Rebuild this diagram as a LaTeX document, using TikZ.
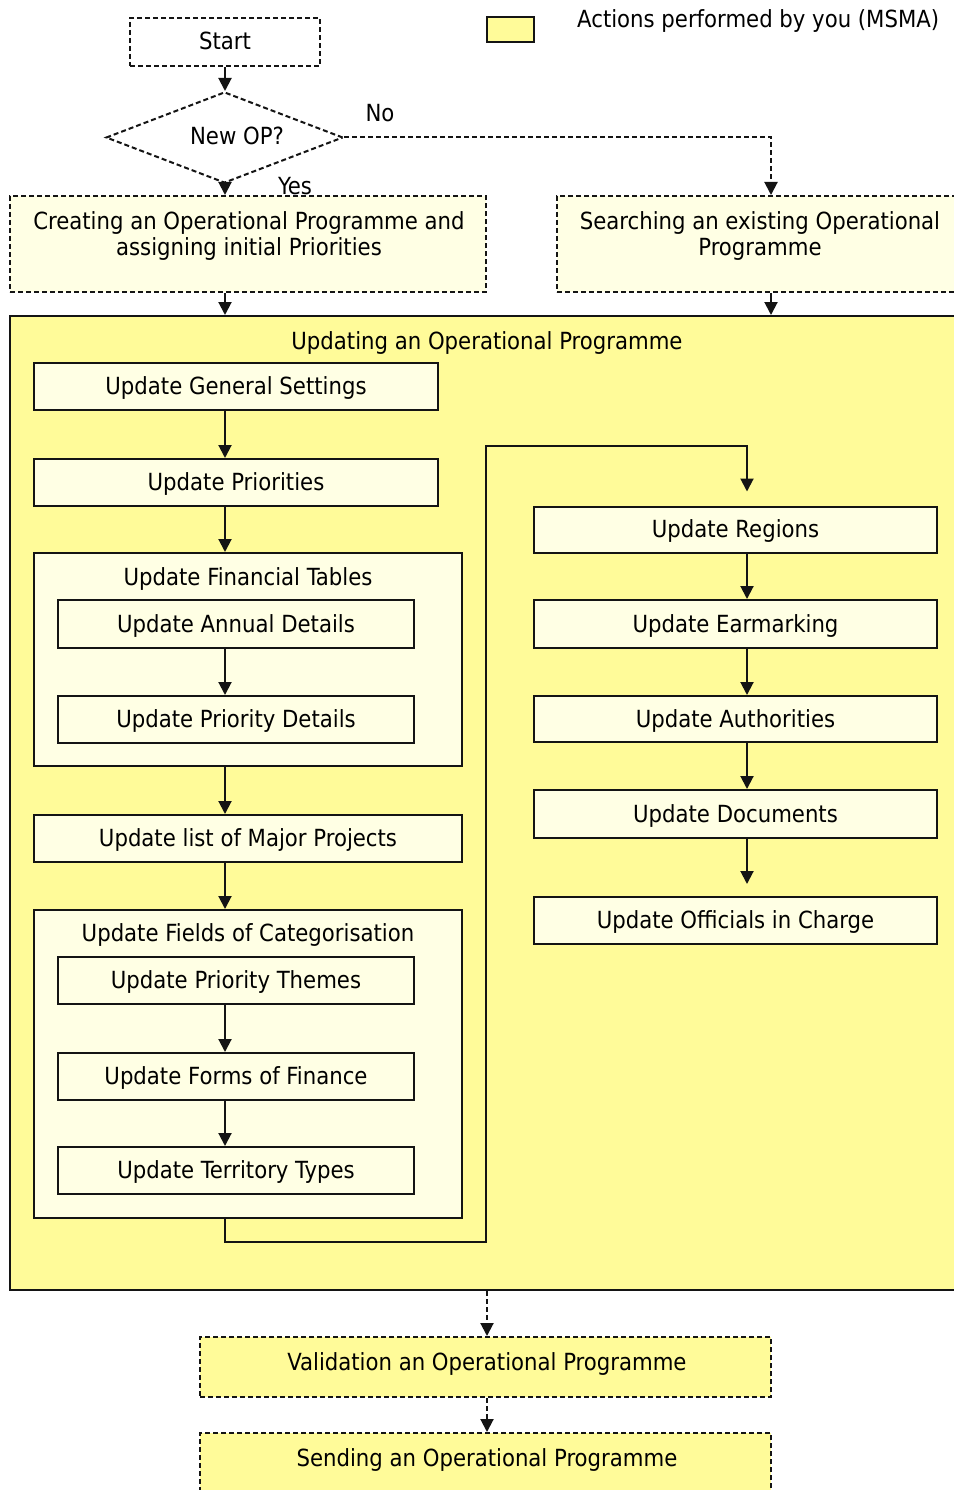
\documentclass[tikz,border=0pt]{standalone}
\usepackage{fontspec}
\setmainfont{DejaVu Sans Condensed}
\usetikzlibrary{arrows.meta,shapes.geometric}
\definecolor{actfill}{HTML}{FFFB99}
\definecolor{palefill}{HTML}{FFFFE4}
\definecolor{edge}{HTML}{141414}
\tikzset{
  every node/.style={font=\fontsize{23.6}{26}\selectfont, text=black, inner sep=0pt,
                     text height=19pt, text depth=3pt},
  twolines/.style={align=center, text height={}, text depth={}},
  solidbox/.style={draw=edge, line width=2pt, fill=palefill},
  dashbox/.style={draw=edge, line width=2pt, dash pattern=on 5pt off 3pt},
  arr/.style={draw=edge, line width=2pt, -{Triangle[width=13pt,length=13pt]}},
  dasharr/.style={arr, dash pattern=on 5pt off 3pt},
}
\begin{document}
\begin{tikzpicture}[x=1pt,y=-1pt]
\useasboundingbox (0,0) rectangle (953,1490);
\fill[white] (0,0) rectangle (953,1490);

% legend
\node[draw=edge, line width=1.6pt, fill=actfill, minimum width=47pt, minimum height=25pt] (legbox) at (510.5,29.5) {};
\node[anchor=west] (legtext) at (577,20) {Actions performed by you (MSMA)};

% start and decision
\node[dashbox, fill=white, minimum width=190pt, minimum height=48pt] (start) at (225,42) {Start};
\node[dashbox, diamond, minimum width=237pt, minimum height=91pt] (dec) at (224.5,137.5) {};
\node (dectext) at (237,137) {New OP?};
\node (no) at (380,114) {No};
\node (yes) at (295,186) {Yes};
\coordinate (ax) at (225,0);
\coordinate (bx) at (771,0);

% creating / searching
\node[dashbox, fill=palefill, minimum width=476pt, minimum height=96pt] (create) at (248,244) {};
\node[twolines] (createtext) at (249,236) {Creating an Operational Programme and\\assigning initial Priorities};
\node[dashbox, fill=palefill, minimum width=404pt, minimum height=96pt] (search) at (759,244) {};
\node[twolines] (searchtext) at (760,236) {Searching an existing Operational\\Programme};

% big update area
\node[draw=edge, line width=2pt, fill=actfill, minimum width=952pt, minimum height=974pt] (upd) at (486,803) {};
\node (updtitle) at (487,341) {Updating an Operational Programme};

% left column
\node[solidbox, minimum width=404pt, minimum height=47pt] (gen) at (236,386.5) {Update General Settings};
\node[solidbox, minimum width=404pt, minimum height=47pt] (pri) at (236,482.5) {Update Priorities};
\node[solidbox, minimum width=428pt, minimum height=213pt] (fin) at (248,659.5) {};
\node (fintitle) at (248,577) {Update Financial Tables};
\node[solidbox, minimum width=356pt, minimum height=48pt] (ann) at (236,624) {Update Annual Details};
\node[solidbox, minimum width=356pt, minimum height=47pt] (prd) at (236,719.5) {Update Priority Details};
\node[solidbox, minimum width=428pt, minimum height=47pt] (maj) at (248,838.5) {Update list of Major Projects};
\node[solidbox, minimum width=428pt, minimum height=308pt] (cat) at (248,1064) {};
\node (cattitle) at (248,933) {Update Fields of Categorisation};
\node[solidbox, minimum width=356pt, minimum height=47pt] (thm) at (236,980.5) {Update Priority Themes};
\node[solidbox, minimum width=356pt, minimum height=47pt] (frm) at (236,1076.5) {Update Forms of Finance};
\node[solidbox, minimum width=356pt, minimum height=47pt] (ter) at (236,1170.5) {Update Territory Types};

% right column
\node[solidbox, minimum width=403pt, minimum height=46pt] (reg) at (735.5,529.5) {Update Regions};
\node[solidbox, minimum width=403pt, minimum height=48pt] (ear) at (735.5,624) {Update Earmarking};
\node[solidbox, minimum width=403pt, minimum height=46pt] (aut) at (735.5,719) {Update Authorities};
\node[solidbox, minimum width=403pt, minimum height=48pt] (doc) at (735.5,814) {Update Documents};
\node[solidbox, minimum width=403pt, minimum height=47pt] (off) at (735.5,920.5) {Update Officials in Charge};
\coordinate (cx) at (747,0);

% final steps
\node[dashbox, fill=actfill, minimum width=571pt, minimum height=60pt] (val) at (485.5,1367) {};
\node (valtext) at (487,1362) {Validation an Operational Programme};
\node[dashbox, fill=actfill, minimum width=571pt, minimum height=60pt] (snd) at (485.5,1463) {};
\node (sndtext) at (487,1458) {Sending an Operational Programme};

% connectors: top part
\draw[arr] (start.south -| ax) -- (dec.north -| ax);
\draw[arr] (dec.south -| ax) -- (create.north -| ax);
\draw[dasharr] (dec.east) -| (search.north -| bx);
\draw[arr] (create.south -| ax) -- (upd.north -| ax);
\draw[arr] (search.south -| bx) -- (upd.north -| bx);

% connectors: left column
\draw[arr] (gen.south -| ax) -- (pri.north -| ax);
\draw[arr] (pri.south -| ax) -- (fin.north -| ax);
\draw[arr] (ann.south -| ax) -- (prd.north -| ax);
\draw[arr] (fin.south -| ax) -- (maj.north -| ax);
\draw[arr] (maj.south -| ax) -- (cat.north -| ax);
\draw[arr] (thm.south -| ax) -- (frm.north -| ax);
\draw[arr] (frm.south -| ax) -- (ter.north -| ax);

% loop over to the right column
\coordinate (l1) at (225,1242);
\coordinate (l2) at (486,1242);
\coordinate (l3) at (486,446);
\coordinate (l4) at (747,446);
\draw[arr, shorten >=14pt] (cat.south -| ax) -- (l1) -- (l2) -- (l3) -- (l4) -- (reg.north -| cx);

% connectors: right column
\draw[arr] (reg.south -| cx) -- (ear.north -| cx);
\draw[arr] (ear.south -| cx) -- (aut.north -| cx);
\draw[arr] (aut.south -| cx) -- (doc.north -| cx);
\draw[arr, shorten >=12pt] (doc.south -| cx) -- (off.north -| cx);

% connectors: bottom
\coordinate (dx) at (487,0);
\draw[dasharr] (upd.south -| dx) -- (val.north -| dx);
\draw[dasharr] (val.south -| dx) -- (snd.north -| dx);
\end{tikzpicture}
\end{document}
